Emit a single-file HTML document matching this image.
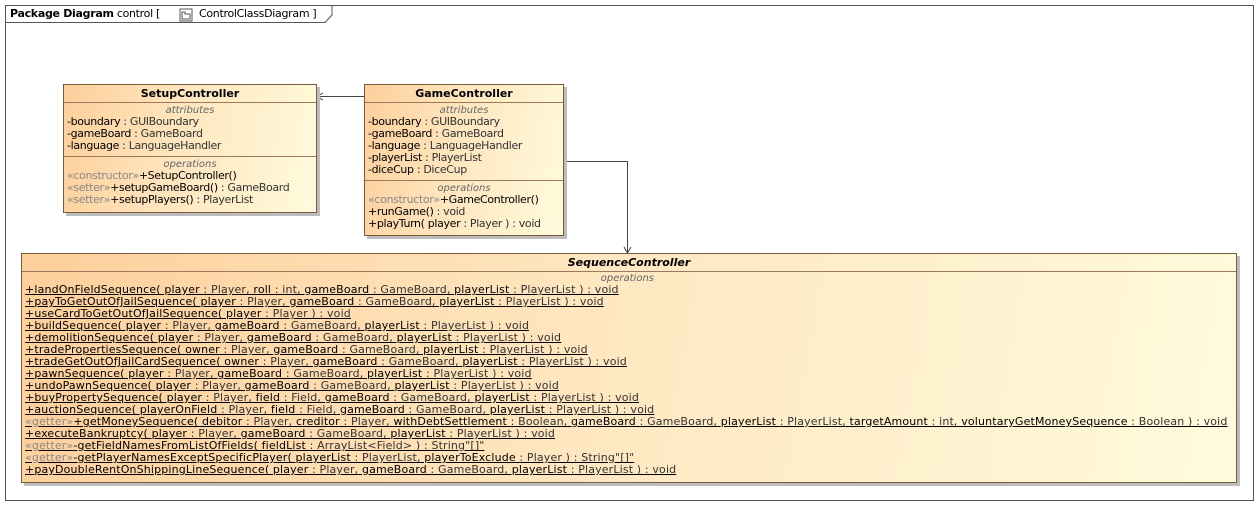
<!DOCTYPE html>
<html><head><meta charset="utf-8"><style>
body{margin:0;width:1259px;height:506px;background:#fff;position:relative;overflow:hidden;font-family:"DejaVu Sans",sans-serif;font-size:11px;color:#000}
.abs{position:absolute}
.cls{position:absolute;border:1px solid #7a5a3a;background:linear-gradient(100deg,#fdcf9b 0%,#fee6bf 45%,#fffbdc 100%);box-shadow:3px 3px 0 #bdbdbd}
.hd{height:17px;line-height:17px;text-align:center;font-weight:bold;border-bottom:1px solid #9a7a5a}
.sec{font-style:italic;color:#666;font-size:10px;text-align:center;line-height:11px;height:11px}
.row{line-height:12px;height:12px;padding-left:3px;white-space:nowrap;letter-spacing:-0.35px}
.t{color:#333}
.g{color:#888}
.div{border-top:1px solid #9a7a5a;margin-top:4px}
.u .row{letter-spacing:0.15px}
.u{text-decoration:underline}
</style></head><body>
<svg class="abs" style="left:0;top:0" width="1259" height="506">
<rect x="5.5" y="5.5" width="1248" height="495" fill="none" stroke="#555"/>
<path d="M5.5 22.5 H325 L332 15 V5.5" fill="none" stroke="#555"/>
<rect x="180" y="9" width="12" height="12" fill="#fff" stroke="#555"/>
<path d="M182 12h3v2h5v5h-8z" fill="none" stroke="#555"/>
<line x1="364" y1="96.5" x2="317" y2="96.5" stroke="#444"/>
<path d="M323 93 L317 96.5 L323 100" fill="none" stroke="#444"/>
<path d="M563 161.5 H627.5 V253" fill="none" stroke="#444"/>
<path d="M624 247 L627.5 253 L631 247" fill="none" stroke="#444"/>
</svg>
<div class="abs" style="left:10px;top:6px;line-height:15px;white-space:nowrap;letter-spacing:-0.3px"><b>Package Diagram</b> control [</div>
<div class="abs" style="left:199px;top:6px;line-height:15px;white-space:nowrap;letter-spacing:-0.3px">ControlClassDiagram ]</div>

<div class="cls" style="left:63px;top:84px;width:252px;height:127px">
<div class="hd">SetupController</div>
<div class="sec" style="margin-top:2px">attributes</div>
<div class="row">-boundary <span class="t">: GUIBoundary</span></div>
<div class="row">-gameBoard <span class="t">: GameBoard</span></div>
<div class="row">-language <span class="t">: LanguageHandler</span></div>
<div class="div"></div>
<div class="sec" style="margin-top:2px">operations</div>
<div class="row"><span class="g">«constructor»</span>+SetupController()</div>
<div class="row"><span class="g">«setter»</span>+setupGameBoard() <span class="t">: GameBoard</span></div>
<div class="row"><span class="g">«setter»</span>+setupPlayers() <span class="t">: PlayerList</span></div>
</div>

<div class="cls" style="left:364px;top:84px;width:198px;height:150px">
<div class="hd">GameController</div>
<div class="sec" style="margin-top:2px">attributes</div>
<div class="row">-boundary <span class="t">: GUIBoundary</span></div>
<div class="row">-gameBoard <span class="t">: GameBoard</span></div>
<div class="row">-language <span class="t">: LanguageHandler</span></div>
<div class="row">-playerList <span class="t">: PlayerList</span></div>
<div class="row">-diceCup <span class="t">: DiceCup</span></div>
<div class="div"></div>
<div class="sec" style="margin-top:2px">operations</div>
<div class="row"><span class="g">«constructor»</span>+GameController()</div>
<div class="row">+runGame() <span class="t">: void</span></div>
<div class="row">+playTurn( player <span class="t">: Player ) : void</span></div>
</div>

<div class="cls" style="left:21px;top:253px;width:1214px;height:228px">
<div class="hd" style="font-style:italic">SequenceController</div>
<div class="sec" style="margin-top:1px;text-align:right;padding-right:582px">operations</div>
<div class="u">
<div class="row">+landOnFieldSequence( player <span class="t">: Player,</span> roll <span class="t">: int,</span> gameBoard <span class="t">: GameBoard,</span> playerList <span class="t">: PlayerList ) : void</span></div>
<div class="row">+payToGetOutOfJailSequence( player <span class="t">: Player,</span> gameBoard <span class="t">: GameBoard,</span> playerList <span class="t">: PlayerList ) : void</span></div>
<div class="row">+useCardToGetOutOfJailSequence( player <span class="t">: Player ) : void</span></div>
<div class="row">+buildSequence( player <span class="t">: Player,</span> gameBoard <span class="t">: GameBoard,</span> playerList <span class="t">: PlayerList ) : void</span></div>
<div class="row">+demolitionSequence( player <span class="t">: Player,</span> gameBoard <span class="t">: GameBoard,</span> playerList <span class="t">: PlayerList ) : void</span></div>
<div class="row">+tradePropertiesSequence( owner <span class="t">: Player,</span> gameBoard <span class="t">: GameBoard,</span> playerList <span class="t">: PlayerList ) : void</span></div>
<div class="row">+tradeGetOutOfJailCardSequence( owner <span class="t">: Player,</span> gameBoard <span class="t">: GameBoard,</span> playerList <span class="t">: PlayerList ) : void</span></div>
<div class="row">+pawnSequence( player <span class="t">: Player,</span> gameBoard <span class="t">: GameBoard,</span> playerList <span class="t">: PlayerList ) : void</span></div>
<div class="row">+undoPawnSequence( player <span class="t">: Player,</span> gameBoard <span class="t">: GameBoard,</span> playerList <span class="t">: PlayerList ) : void</span></div>
<div class="row">+buyPropertySequence( player <span class="t">: Player,</span> field <span class="t">: Field,</span> gameBoard <span class="t">: GameBoard,</span> playerList <span class="t">: PlayerList ) : void</span></div>
<div class="row">+auctionSequence( playerOnField <span class="t">: Player,</span> field <span class="t">: Field,</span> gameBoard <span class="t">: GameBoard,</span> playerList <span class="t">: PlayerList ) : void</span></div>
<div class="row"><span class="g">«getter»</span>+getMoneySequence( debitor <span class="t">: Player,</span> creditor <span class="t">: Player,</span> withDebtSettlement <span class="t">: Boolean,</span> gameBoard <span class="t">: GameBoard,</span> playerList <span class="t">: PlayerList,</span> targetAmount <span class="t">: int,</span> voluntaryGetMoneySequence <span class="t">: Boolean ) : void</span></div>
<div class="row">+executeBankruptcy( player <span class="t">: Player,</span> gameBoard <span class="t">: GameBoard,</span> playerList <span class="t">: PlayerList ) : void</span></div>
<div class="row"><span class="g">«getter»</span>-getFieldNamesFromListOfFields( fieldList <span class="t">: ArrayList&lt;Field&gt; ) : String"[]"</span></div>
<div class="row"><span class="g">«getter»</span>-getPlayerNamesExceptSpecificPlayer( playerList <span class="t">: PlayerList,</span> playerToExclude <span class="t">: Player ) : String"[]"</span></div>
<div class="row">+payDoubleRentOnShippingLineSequence( player <span class="t">: Player,</span> gameBoard <span class="t">: GameBoard,</span> playerList <span class="t">: PlayerList ) : void</span></div>
</div>
</div>
</body></html>
